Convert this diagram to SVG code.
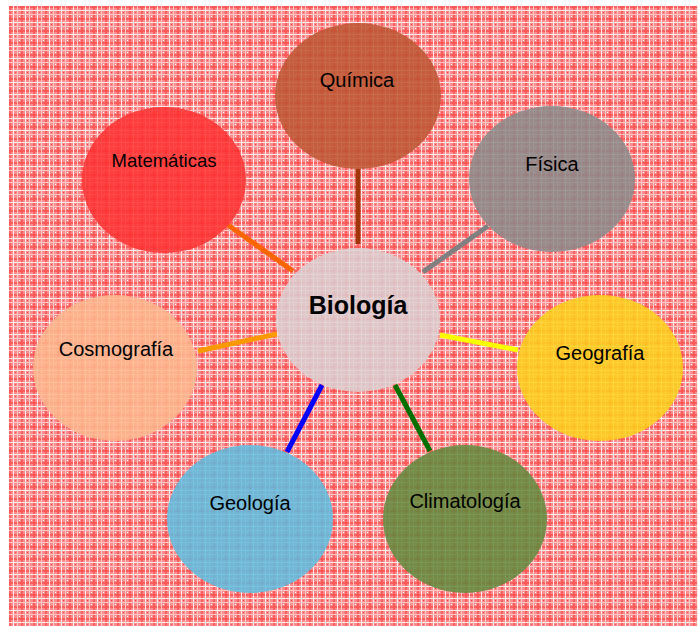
<svg xmlns="http://www.w3.org/2000/svg" width="698" height="626" viewBox="0 0 698 626">
<style>
.lbl{font-family:"Liberation Sans",Arial,sans-serif;font-size:20px;fill:#000;text-anchor:middle}
.node{fill-opacity:0.85}
.conn{stroke-width:5;fill:none}
</style>
<defs>
<pattern id="plaid" x="9" y="6" width="12" height="12" patternUnits="userSpaceOnUse">
<rect width="12" height="12" fill="#ff8c8c"/>
<rect x="0" y="0" width="2" height="12" fill="#ff5050" opacity="0.75"/>
<rect x="0" y="0" width="12" height="2" fill="#ff5050" opacity="0.75"/>
<rect x="4" y="0" width="1" height="12" fill="#ffffff" opacity="0.85"/>
<rect x="0" y="4" width="12" height="1" fill="#ffffff" opacity="0.85"/>
<rect x="8" y="0" width="1" height="12" fill="#ffc8c8"/>
<rect x="0" y="8" width="12" height="1" fill="#ffc8c8"/>
<rect x="6" y="6" width="1" height="1" fill="#ff4040"/>
<rect x="10" y="10" width="1" height="1" fill="#ffffff"/>
</pattern>
</defs>
<rect x="9" y="6" width="689" height="620" fill="url(#plaid)"/>
<g id="connectors">
<line class="conn" x1="358" y1="169" x2="358" y2="244" stroke="#a0360a"/>
<line class="conn" x1="228" y1="225" x2="293" y2="271" stroke="#ff6600"/>
<line class="conn" x1="488" y1="226" x2="423" y2="272" stroke="#808080"/>
<line class="conn" x1="440" y1="335" x2="518" y2="350" stroke="#ffff00"/>
<line class="conn" x1="198" y1="351" x2="277" y2="334" stroke="#ff9900"/>
<line class="conn" x1="287" y1="452" x2="322" y2="385" stroke="#0000ff"/>
<line class="conn" x1="395" y1="385" x2="430" y2="451" stroke="#007000"/>
</g>
<g id="quimica"><ellipse class="node" cx="358" cy="96" rx="83" ry="73" fill="#bb5530"/><text class="lbl" x="357" y="87">Química</text></g>
<g id="matematicas"><ellipse class="node" cx="164" cy="180" rx="82" ry="73" fill="#ff3030"/><text class="lbl" x="164" y="167" style="font-size:18.5px">Matemáticas</text></g>
<g id="fisica"><ellipse class="node" cx="552" cy="179" rx="83" ry="73" fill="#8a8a8a"/><text class="lbl" x="552" y="171">Física</text></g>
<g id="biologia"><ellipse class="node" cx="358" cy="320" rx="82" ry="72" fill="#dcd0d2"/><text class="lbl" x="358" y="314" style="font-size:25px;font-weight:bold">Biología</text></g>
<g id="geografia"><ellipse class="node" cx="600" cy="368" rx="83" ry="73" fill="#ffd21a"/><text class="lbl" x="600" y="360">Geografía</text></g>
<g id="cosmografia"><ellipse class="node" cx="115" cy="368" rx="82" ry="73" fill="#ffb88e"/><text class="lbl" x="116" y="356">Cosmografía</text></g>
<g id="geologia"><ellipse class="node" cx="250" cy="519" rx="83" ry="74" fill="#5cbde0"/><text class="lbl" x="250" y="510">Geología</text></g>
<g id="climatologia"><ellipse class="node" cx="465" cy="519" rx="82" ry="74" fill="#5f8a3c"/><text class="lbl" x="465" y="508">Climatología</text></g>
</svg>
